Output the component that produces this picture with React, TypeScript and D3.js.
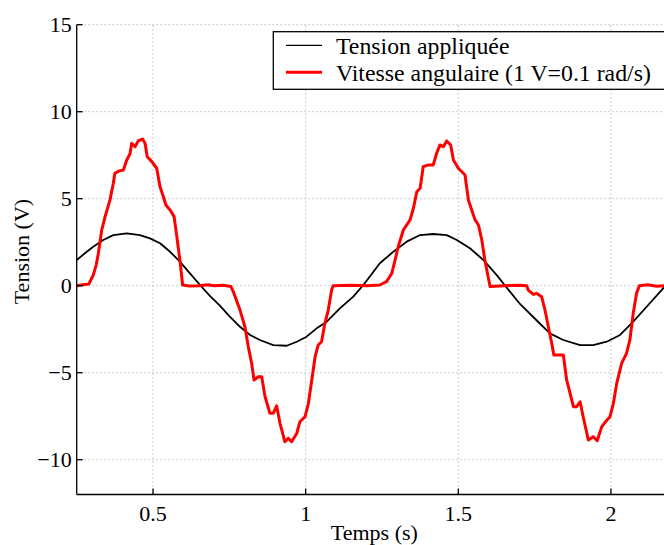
import React from "react";
import * as d3 from "d3";

const tensionT = [0.25, 0.283, 0.304, 0.337, 0.37, 0.414, 0.457, 0.49, 0.523, 0.556, 0.588, 0.621, 0.654, 0.687, 0.719, 0.75, 0.785, 0.818, 0.85, 0.894, 0.938, 0.971, 1.003, 1.036, 1.069, 1.112, 1.156, 1.189, 1.222, 1.243, 1.287, 1.331, 1.375, 1.418, 1.462, 1.495, 1.538, 1.582, 1.626, 1.658, 1.702, 1.757, 1.8, 1.844, 1.899, 1.942, 1.986, 2.03, 2.073, 2.117, 2.171, 2.18];
const tensionV = [1.48, 1.95, 2.24, 2.63, 2.91, 3.01, 2.91, 2.72, 2.44, 1.95, 1.38, 0.71, 0.04, -0.6, -1.15, -1.75, -2.36, -2.83, -3.12, -3.41, -3.45, -3.22, -2.93, -2.45, -2.07, -1.3, -0.63, 0.04, 0.8, 1.29, 1.95, 2.53, 2.91, 2.97, 2.91, 2.63, 2.15, 1.48, 0.61, -0.1, -1.05, -2.0, -2.74, -3.12, -3.41, -3.41, -3.22, -2.83, -2.07, -1.21, -0.15, 0.0];

const vitesseT = [0.25, 0.27, 0.29, 0.304, 0.314, 0.321, 0.332, 0.343, 0.359, 0.37, 0.375, 0.39, 0.403, 0.414, 0.425, 0.43, 0.441, 0.452, 0.466, 0.474, 0.481, 0.496, 0.512, 0.523, 0.534, 0.542, 0.556, 0.569, 0.578, 0.588, 0.597, 0.62, 0.65, 0.68, 0.7, 0.73, 0.755, 0.763, 0.785, 0.801, 0.812, 0.823, 0.831, 0.845, 0.856, 0.867, 0.883, 0.894, 0.905, 0.916, 0.932, 0.943, 0.954, 0.971, 0.981, 0.998, 1.009, 1.02, 1.031, 1.041, 1.052, 1.063, 1.074, 1.085, 1.09, 1.15, 1.2, 1.243, 1.265, 1.282, 1.293, 1.303, 1.32, 1.342, 1.353, 1.364, 1.375, 1.385, 1.402, 1.418, 1.429, 1.44, 1.451, 1.462, 1.475, 1.484, 1.5, 1.522, 1.533, 1.544, 1.555, 1.566, 1.577, 1.587, 1.604, 1.65, 1.7, 1.724, 1.729, 1.746, 1.756, 1.773, 1.784, 1.795, 1.806, 1.813, 1.828, 1.844, 1.855, 1.866, 1.877, 1.888, 1.899, 1.909, 1.926, 1.942, 1.955, 1.97, 1.987, 1.997, 2.008, 2.019, 2.035, 2.051, 2.062, 2.073, 2.084, 2.093, 2.12, 2.15, 2.18];
const vitesseV = [0.0, 0.05, 0.1, 0.6, 1.2, 1.86, 3.2, 3.97, 4.93, 5.89, 6.46, 6.6, 6.65, 7.22, 7.6, 8.18, 7.99, 8.33, 8.43, 8.18, 7.41, 7.13, 6.75, 5.69, 5.11, 4.64, 4.35, 3.97, 2.82, 1.48, 0.04, -0.02, 0.0, 0.05, 0.0, 0.02, -0.05, -0.34, -1.4, -2.36, -3.5, -4.46, -5.42, -5.23, -5.23, -6.38, -7.33, -7.33, -6.91, -7.91, -8.97, -8.77, -8.97, -8.48, -7.82, -7.53, -6.76, -5.42, -4.08, -3.41, -3.22, -2.16, -1.4, -0.25, 0.0, 0.02, 0.0, 0.04, 0.23, 0.71, 1.48, 2.24, 3.2, 3.78, 4.45, 5.4, 5.6, 6.84, 6.94, 6.94, 7.61, 8.09, 7.99, 8.32, 8.09, 7.22, 6.75, 6.36, 4.93, 4.35, 3.78, 3.49, 2.63, 1.48, -0.05, 0.0, 0.02, 0.0, -0.25, -0.5, -0.44, -0.63, -1.4, -2.36, -3.31, -3.98, -3.98, -3.98, -5.42, -6.18, -6.95, -6.95, -6.67, -7.53, -8.87, -8.68, -8.91, -8.1, -7.72, -7.53, -6.76, -5.61, -4.46, -3.89, -3.12, -1.59, -0.44, 0.0, 0.05, -0.03, 0.0];

const xTicks = [0.5, 1, 1.5, 2];
const xTickLabels = ["0.5", "1", "1.5", "2"];
const yTicks = [-10, -5, 0, 5, 10, 15];
const yTickLabels = ["\u221210", "\u22125", "0", "5", "10", "15"];
const seriesNames = ["Tension appliquée", "Vitesse angulaire (1 V=0.1 rad/s)"];

const W = 664;
const H = 545;
const L = 76.7;
const R = 672;
const T = 24.7;
const B = 494.5;
const FONT = "'Liberation Serif', 'Times New Roman', serif";

export default function App() {
  const x = d3.scaleLinear().domain([0.25, 2.2]).range([L, R]);
  const y = d3.scaleLinear().domain([-12, 15]).range([B, T]);
  const line = d3
    .line<[number, number]>()
    .x((d) => x(d[0]))
    .y((d) => y(d[1]));
  const tension: [number, number][] = tensionT.map((t, i) => [t, tensionV[i]]);
  const vitesse: [number, number][] = vitesseT.map((t, i) => [t, vitesseV[i]]);

  return (
    <svg
      width={W}
      height={H}
      style={{ position: "absolute", left: 0, top: 0, background: "#fff" }}
      fontFamily={FONT}
    >
      <defs>
        <clipPath id="plot">
          <rect x={L} y={T - 2} width={R - L} height={B - T + 2} />
        </clipPath>
      </defs>
      <rect x={0} y={0} width={W} height={H} fill="#fff" />
      {/* grid */}
      <g stroke="#9a9a9a" strokeWidth={1} strokeDasharray="1,3">
        {xTicks.map((t) => (
          <line key={"gx" + t} x1={x(t)} x2={x(t)} y1={B} y2={T} />
        ))}
        {yTicks.map((t) => (
          <line key={"gy" + t} x1={L} x2={R} y1={y(t)} y2={y(t)} />
        ))}
      </g>
      {/* data */}
      <g clipPath="url(#plot)" fill="none" strokeLinejoin="round">
        <path d={line(tension) || ""} stroke="#000" strokeWidth={1.8} />
        <path d={line(vitesse) || ""} stroke="#ff0000" strokeWidth={3} />
      </g>
      {/* axes */}
      <g stroke="#000" strokeWidth={1.3}>
        <line x1={L} x2={L} y1={T} y2={B} />
        <line x1={L} x2={R} y1={B} y2={B} />
        {xTicks.map((t) => (
          <line key={"tx" + t} x1={x(t)} x2={x(t)} y1={B} y2={B - 6} />
        ))}
        {yTicks.map((t) => (
          <line key={"ty" + t} x1={L} x2={L + 6} y1={y(t)} y2={y(t)} />
        ))}
      </g>
      <g fontSize={22} fill="#000">
        {xTicks.map((t, i) => (
          <text key={"lx" + t} x={x(t)} y={B + 26} textAnchor="middle">
            {xTickLabels[i]}
          </text>
        ))}
        {yTicks.map((t, i) => (
          <text key={"ly" + t} x={L - 5} y={y(t) + 7.5} textAnchor="end">
            {yTickLabels[i]}
          </text>
        ))}
        <text x={(L + R) / 2} y={539.5} textAnchor="middle">
          Temps (s)
        </text>
        <text
          transform={`translate(29, ${(T + B) / 2 - 8}) rotate(-90)`}
          textAnchor="middle"
        >
          Tension (V)
        </text>
      </g>
      {/* legend */}
      <g>
        <rect x={273.3} y={31.7} width={420} height={57.6} fill="#fff" stroke="#000" strokeWidth={1.3} />
        <line x1={286} x2={322} y1={45.3} y2={45.3} stroke="#000" strokeWidth={1.3} />
        <line x1={286} x2={322} y1={72.3} y2={72.3} stroke="#ff0000" strokeWidth={3} />
        <text x={336} y={53.5} fontSize={23.8} fill="#000">
          {seriesNames[0]}
        </text>
        <text x={336} y={80.8} fontSize={23.8} fill="#000">
          {seriesNames[1]}
        </text>
      </g>
    </svg>
  );
}
